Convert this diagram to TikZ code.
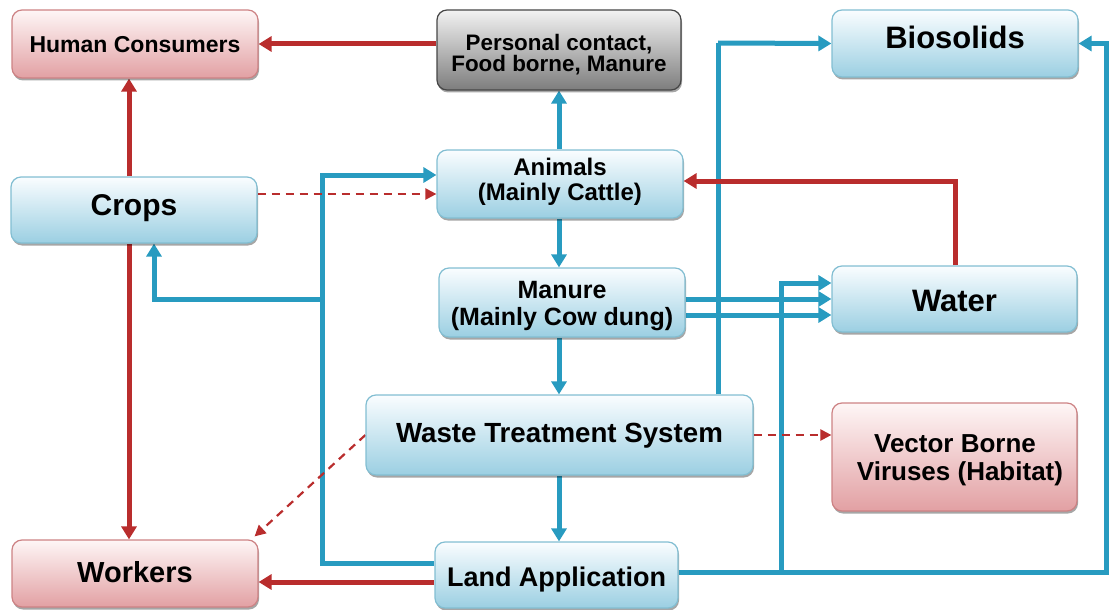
\documentclass[tikz,border=0pt]{standalone}
\usepackage{fontspec}
\setmainfont{Liberation Sans}
\usetikzlibrary{arrows.meta,shadows,calc}
\pgfdeclarelayer{bg}
\pgfsetlayers{bg,main}
\definecolor{lineblue}{RGB}{40,155,192}
\definecolor{linered}{RGB}{185,45,45}
\definecolor{bluetop}{RGB}{250,253,255}
\definecolor{bluebot}{RGB}{155,207,226}
\definecolor{blueborder}{RGB}{130,190,210}
\definecolor{pinktop}{RGB}{254,246,246}
\definecolor{pinkbot}{RGB}{226,160,163}
\definecolor{pinkborder}{RGB}{205,130,132}
\definecolor{graytop}{RGB}{242,242,242}
\definecolor{graybot}{RGB}{125,125,125}
\definecolor{grayborder}{RGB}{70,70,70}
\begin{document}
\begin{tikzpicture}[x=1pt,y=-1pt,
  boxbase/.style={rectangle, rounded corners=10pt, line width=1.2pt, inner sep=0pt,
    drop shadow={shadow xshift=1pt, shadow yshift=-2.5pt, fill=black, opacity=0.35}},
  bluebox/.style={boxbase, draw=blueborder, top color=bluetop, bottom color=bluebot},
  pinkbox/.style={boxbase, draw=pinkborder, top color=pinktop, bottom color=pinkbot},
  graybox/.style={boxbase, draw=grayborder, top color=graytop, bottom color=graybot},
  sz/.style 2 args={minimum width=#1pt, minimum height=#2pt},
  t/.style={inner sep=0pt, text height=0.716*#1pt, text depth=0pt,
    font=\fontsize{#1}{#1}\selectfont\bfseries},
  blueA/.style={draw=lineblue, line width=5pt, -{Triangle[width=15pt,length=13pt]}},
  blueL/.style={draw=lineblue, line width=5pt},
  redA/.style={draw=linered, line width=5pt, -{Triangle[width=15pt,length=13pt]}},
  redD/.style={draw=linered, line width=2.2pt, dash pattern=on 8pt off 6pt,
    -{Triangle[width=11pt,length=11pt]}}
]
\useasboundingbox (0,0) rectangle (1109,610);

% helper coordinates
\coordinate (cx) at (129,0);
\coordinate (mx) at (559,0);
\coordinate (r1) at (0,582);
\coordinate (j1) at (322,563);
\coordinate (j2) at (322,175);
\coordinate (j3) at (322,299);
\coordinate (j4) at (154,299);
\coordinate (d1) at (0,194);
\coordinate (w1) at (955,181);
\coordinate (b1) at (718,43);
\coordinate (m1) at (0,299);
\coordinate (m2) at (0,315);
\coordinate (l1) at (1106,572);
\coordinate (l2) at (781,572);
\coordinate (l3) at (781,283);

% boxes
\path
  (135,44)    node[pinkbox, sz={246}{68}]  (hum) {}
  (559,50)    node[graybox, sz={244}{80}]  (pc) {}
  (955,43.5)  node[bluebox, sz={246}{67}]  (bio) {}
  (560,184)   node[bluebox, sz={246}{68}]  (ani) {}
  (134,210)   node[bluebox, sz={246}{66}]  (crops) {}
  (562,302.5) node[bluebox, sz={246}{69}]  (man) {}
  (954.5,299) node[bluebox, sz={245}{66}]  (water) {}
  (559.5,435) node[bluebox, sz={387}{80}]  (wts) {}
  (954.5,457) node[pinkbox, sz={245}{108}] (vec) {}
  (135,573.5) node[pinkbox, sz={246}{67}]  (workers) {}
  (556.5,575) node[bluebox, sz={243}{66}]  (land) {};

% texts
\node[t=23] (hum-t) at (135,44) {Human Consumers};
\node[t=22.4] (pc-t1) at (559,42) {Personal contact,};
\node[t=22.4] (pc-t2) at (559,63) {Food borne, Manure};
\node[t=31] (bio-t) at (955,37) {Biosolids};
\node[t=24] (ani-t1) at (560,167) {Animals};
\node[t=24] (ani-t2) at (560,192) {(Mainly Cattle)};
\node[t=30] (crops-t) at (134,205) {Crops};
\node[t=25] (man-t1) at (562,290) {Manure};
\node[t=25] (man-t2) at (562,316.5) {(Mainly Cow dung)};
\node[t=31] (water-t) at (954.5,300) {Water};
\node[t=27.7] (wts-t) at (559.5,433) {Waste Treatment System};
\node[t=26] (vec-t1) at (955,443) {Vector Borne};
\node[t=26] (vec-t2) at (960,471) {Viruses (Habitat)};
\node[t=29] (workers-t) at (135,572) {Workers};
\node[t=27] (land-t) at (556.5,577) {Land Application};

% connectors, behind the boxes
\begin{pgfonlayer}{bg}
\draw[redA] (pc.west |- hum.east) -- (hum.east);
\draw[redA] (crops.north -| cx) -- (hum.south -| cx);
\draw[redA] (crops.south -| cx) -- (workers.north -| cx);
\draw[blueA] (ani.north -| mx) -- (pc.south -| mx);
\draw[blueA] (ani.south -| mx) -- (man.north -| mx);
\draw[blueA] (man.south -| mx) -- (wts.north -| mx);
\draw[blueA] (wts.south -| mx) -- (land.north -| mx);
\draw[redA] (land.west |- r1) -- (workers.east |- r1);
\draw[blueA] (land.west |- j1) -- (j1) -- (j2) -- (ani.west |- j2);
\draw[blueA] (j3) -- (j4) -- (crops.south -| j4);
\draw[redD] (crops.east |- d1) -- (ani.west |- d1);
\draw[blueL] (wts.north -| b1) -- (b1);
\draw[blueA] (b1) -- (bio.west);
\draw[redA] (water.north -| w1) -- (w1) -- (ani.east |- w1);
\draw[blueA] (man.east |- m1) -- (water.west |- m1);
\draw[blueA] (man.east |- m2) -- (water.west |- m2);
\draw[blueA] (land.east |- l1) -- (l1) -- (bio.east -| l1) -- (bio.east);
\draw[blueA] (l2) -- (l3) -- (water.west |- l3);
\draw[redD] (wts.east) -- (vec.west |- wts.east);
\draw[redD] (wts.west) -- ([xshift=-4pt,yshift=3pt]workers.north east);
\end{pgfonlayer}
\end{tikzpicture}
\end{document}
